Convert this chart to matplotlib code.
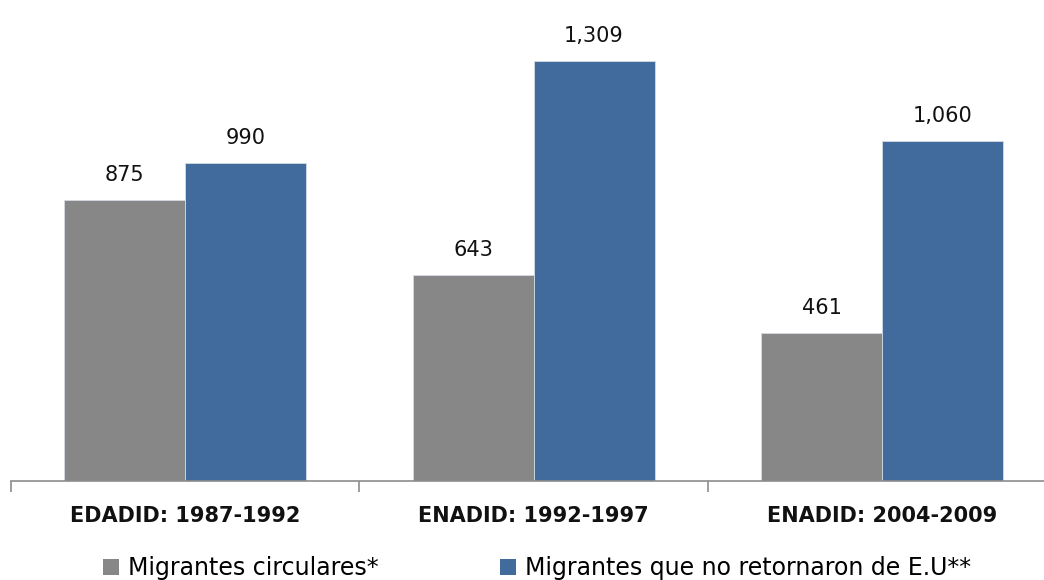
import matplotlib
matplotlib.use("Agg")
import matplotlib.pyplot as plt
from matplotlib.patches import Patch
import numpy as np

categories = ["EDADID: 1987-1992", "ENADID: 1992-1997", "ENADID: 2004-2009"]
series_names = ["Migrantes circulares*", "Migrantes que no retornaron de E.U**"]
circulares = [875, 643, 461]
no_retornaron = [990, 1309, 1060]
colors = ["#878787", "#406B9C"]

W, H = 1044, 580
fig = plt.figure(figsize=(W / 100, H / 100), dpi=100)
fig.patch.set_facecolor("white")

# plot area in pixels: baseline at y=481, each category 348.5 px wide
cat_w = 348.5
left_px, base_px = 10.75, 481
ymax = 1400
px_per_unit = 0.321
ax = fig.add_axes([left_px / W, (H - base_px) / H,
                   cat_w * 3 / W, ymax * px_per_unit / H])
ax.set_xlim(0, 3)
ax.set_ylim(0, ymax)

x = np.arange(len(categories)) + 0.5
bw = 121 / cat_w
for i, (vals, col) in enumerate(zip([circulares, no_retornaron], colors)):
    xs = x + (i - 0.5) * bw
    ax.bar(xs, vals, width=bw, color=col, edgecolor="#d5dbe3",
           linewidth=0.6, zorder=2)
    for xi, v in zip(xs, vals):
        ax.annotate(f"{v:,}", (xi, v), xytext=(0, 18), textcoords="offset points",
                    ha="center", va="center", fontsize=15,
                    family="DejaVu Sans", color="#111111")

for s in ["top", "right", "left"]:
    ax.spines[s].set_visible(False)
ax.spines["bottom"].set_color("#8c8c8c")
ax.spines["bottom"].set_linewidth(1.2)
ax.set_yticks([])
ax.set_xticks([0, 1, 2, 3])
ax.set_xticklabels([])
ax.tick_params(axis="x", length=8, width=1.2, color="#8c8c8c", direction="out")

for xi, lab in zip(x, categories):
    ax.annotate(lab, (xi, 0), xycoords=("data", "axes fraction"),
                xytext=(0, -25.5), textcoords="offset points",
                ha="center", va="center", fontsize=15, fontweight="bold",
                family="DejaVu Sans", color="#111111")

handles = [Patch(facecolor=c, edgecolor="none") for c in colors]
fig.legend(handles, series_names, loc="center left",
           bbox_to_anchor=(103 / W, 12 / H), ncol=2, frameon=False,
           borderpad=0, borderaxespad=0, handlelength=0.68,
           handleheight=0.68, handletextpad=0.4, columnspacing=5.1,
           prop={"family": "DejaVu Sans", "size": 17})

fig.savefig("out.png", dpi=100, facecolor="white")
